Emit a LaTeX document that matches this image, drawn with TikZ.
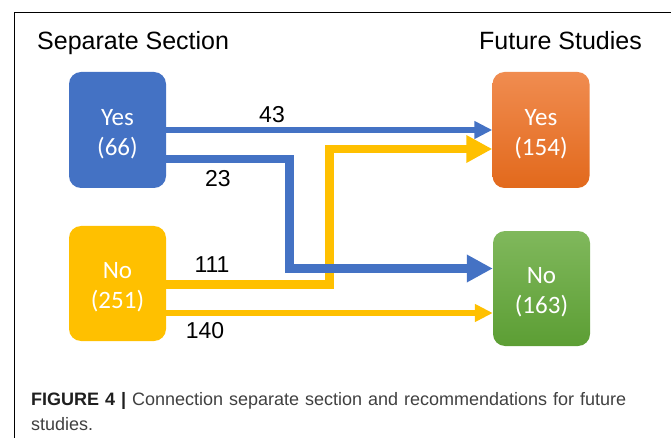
\documentclass[tikz,border=0pt]{standalone}
\usepackage{fontspec}
\usetikzlibrary{arrows.meta}
\newfontfamily\arialf{Liberation Sans}
\newfontfamily\calf{Carlito}
\definecolor{cblue}{HTML}{4472C4}
\definecolor{cyel}{HTML}{FFC000}
\definecolor{corgT}{HTML}{F08C50}
\definecolor{corgB}{HTML}{E2691C}
\definecolor{cgrnT}{HTML}{80B85C}
\definecolor{cgrnB}{HTML}{5C9E34}
\definecolor{captxt}{HTML}{404040}
\tikzset{
  box/.style={rounded corners=12pt, minimum width=97pt, inner sep=0pt, align=center,
    text=white, font=\calf\fontsize{25}{30}\selectfont},
  head/.style={inner sep=0pt, font=\arialf\fontsize{25}{29}\selectfont},
  num/.style={inner sep=0pt, font=\arialf\fontsize{23}{27}\selectfont},
  captext/.style={inner sep=0pt, anchor=base west, text=captxt, font=\arialf\fontsize{18}{25}\selectfont},
  thinflow/.style={line width=6pt, -{Triangle[length=18pt,width=17pt]}},
  thickflow/.style={line width=8.5pt, -{Triangle[length=26pt,width=26pt]}},
}
\newcommand{\upstrut}{\rule{0pt}{24pt}}
\begin{document}
\begin{tikzpicture}[x=1pt,y=-1pt]
\useasboundingbox (0,0) rectangle (671,438);
% frame
\draw[line width=1pt] (14,438) -- (14,12.3) -- (671,12.3);
% headings
\node[head, anchor=base west] (hl) at (37,50) {Separate Section};
\node[head, anchor=base east] (hr) at (642,50) {Future Studies};
% boxes
\node[box, fill=cblue, minimum height=116pt] (ssyes) at (117.5,130) {\upstrut Yes\\(66)};
\node[box, fill=cyel, minimum height=115pt] (ssno) at (117.5,283.5) {\upstrut No\\(251)};
\node[box, top color=corgT, bottom color=corgB, minimum height=116pt] (fsyes) at (541,130) {\upstrut Yes\\(154)};
\node[box, top color=cgrnT, bottom color=cgrnB, minimum height=115pt] (fsno) at (541.5,288.5) {\upstrut No\\(163)};
% bends
\coordinate (kb) at (289.5,268.5);
\coordinate (ky) at (329.5,149);
% yellow flows
\draw[thickflow, cyel] ([yshift=-1pt]ssno.east) -| (ky) -- ([yshift=-19pt]fsyes.west);
\draw[thinflow, cyel] ([yshift=-29.5pt]ssno.east) -- ([yshift=-24.5pt]fsno.west);
% blue flows
\draw[thinflow, cblue] (ssyes.east) -- (fsyes.west);
\draw[thickflow, cblue] ([yshift=-29pt]ssyes.east) -| (kb) -- ([yshift=20pt]fsno.west);
% numbers
\node[num] (n43) at (272,115) {43};
\node[num] (n23) at (218,179) {23};
\node[num] (n111) at (212,265) {111};
\node[num] (n140) at (205,331) {140};
% caption
\node[captext] (cap1) at (31,405)
  {\makebox[595pt][s]{\textcolor{black!88}{\bfseries FIGURE 4 |} Connection separate section and recommendations for future}};
\node[captext] (cap2) at (31,430) {studies.};
\end{tikzpicture}
\end{document}
